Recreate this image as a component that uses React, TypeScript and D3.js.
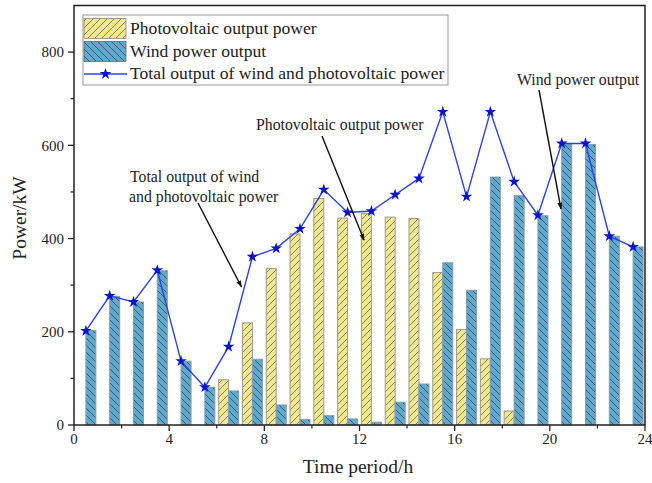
import React from "react";
import * as d3 from "d3";

const hours = d3.range(24);
const windPower = [203, 276, 264, 331, 137, 81, 73, 141, 43, 12, 20, 13, 6, 49, 88, 348, 289, 532, 492, 449, 603, 602, 405, 382];
const pvPower = [0, 0, 0, 0, 0, 0, 97, 219, 336, 410, 486, 444, 454, 446, 443, 327, 205, 142, 30, 0, 0, 0, 0, 0];
const totalPower = [202, 277, 264, 332, 137, 81, 168, 361, 379, 421, 505, 456, 459, 494, 529, 672, 490, 672, 522, 450, 604, 604, 405, 382];
const xTicks = [0, 4, 8, 12, 16, 20, 24];
const yTicks = [0, 200, 400, 600, 800];
const legendLabels = ["Photovoltaic output power", "Wind power output", "Total output of wind and photovoltaic power"];

const W = 652, H = 483;
const FONT = "'Liberation Serif', 'DejaVu Serif', serif";
const PV_FILL = "#F1E88E";
const WIND_FILL = "#5FA9CF";
const LINE = "#2B44E0";
const STAR = "#0A14C8";

export default function App() {
  const x = d3.scaleLinear().domain([0, 24]).range([74, 645]);
  const y = d3.scaleLinear().domain([0, 900]).range([425, 5.5]);
  const bw = 0.42;
  const line = d3.line<number>().x((_, i) => x(i + 0.5)).y((d) => y(d));
  const star = d3.symbol().type(d3.symbolStar).size(42)();
  const minorY = d3.range(100, 900, 200);
  const minorX = d3.range(2, 24, 4);

  return (
    <svg width={W} height={H} style={{ position: "fixed", left: 0, top: 0, background: "#fff" }} fontFamily={FONT}>
      <defs>
        <pattern id="pvHatch" patternUnits="userSpaceOnUse" width="7" height="7">
          <rect width="7" height="7" fill={PV_FILL} />
          <path d="M-1,8 L8,-1 M-1,1 L1,-1 M6,8 L8,6" stroke="#555" strokeWidth="0.7" />
        </pattern>
        <pattern id="windHatch" patternUnits="userSpaceOnUse" width="7" height="7">
          <rect width="7" height="7" fill={WIND_FILL} />
          <path d="M-1,-1 L8,8 M-1,6 L1,8 M6,-1 L8,1" stroke="#2a3a48" strokeWidth="0.7" />
        </pattern>
        <marker id="arrow" viewBox="0 0 10 10" refX="9" refY="5" markerWidth="7" markerHeight="7" orient="auto" markerUnits="userSpaceOnUse">
          <path d="M0,1.5 L10,5 L0,8.5 Z" fill="#111" />
        </marker>
      </defs>

      {/* bars */}
      {hours.map((h) => (
        <g key={h}>
          {pvPower[h] > 0 && (
            <rect x={x(h + 0.5 - bw)} y={y(pvPower[h])} width={x(h + 0.5) - x(h + 0.5 - bw)} height={y(0) - y(pvPower[h])}
              fill="url(#pvHatch)" stroke="#9a9a9a" strokeWidth="1" />
          )}
          {windPower[h] > 0 && (
            <rect x={x(h + 0.5)} y={y(windPower[h])} width={x(h + 0.5 + bw) - x(h + 0.5)} height={y(0) - y(windPower[h])}
              fill="url(#windHatch)" stroke="#8a9aa5" strokeWidth="1" />
          )}
        </g>
      ))}

      {/* total line */}
      <path d={line(totalPower) || ""} fill="none" stroke={LINE} strokeWidth={1.4} />
      {totalPower.map((v, i) => (
        <path key={i} d={star} transform={`translate(${x(i + 0.5)},${y(v)})`} fill={STAR} />
      ))}

      {/* frame */}
      <rect x={x(0)} y={y(900)} width={x(24) - x(0)} height={y(0) - y(900)} fill="none" stroke="#222" strokeWidth={1.5} />

      {/* y ticks */}
      {yTicks.map((t) => (
        <g key={t}>
          <line x1={x(0) - 6} x2={x(0)} y1={y(t)} y2={y(t)} stroke="#222" strokeWidth={1.3} />
          <text x={x(0) - 10} y={y(t)} dy="0.35em" textAnchor="end" fontSize={15} fill="#222">{t}</text>
        </g>
      ))}
      {minorY.map((t) => (
        <line key={t} x1={x(0) - 3.5} x2={x(0)} y1={y(t)} y2={y(t)} stroke="#222" strokeWidth={1.2} />
      ))}

      {/* x ticks */}
      {xTicks.map((t) => (
        <g key={t}>
          <line x1={x(t)} x2={x(t)} y1={y(0)} y2={y(0) + 6} stroke="#222" strokeWidth={1.3} />
          <text x={x(t)} y={y(0) + 19} textAnchor="middle" fontSize={15} fill="#222">{t}</text>
        </g>
      ))}
      {minorX.map((t) => (
        <line key={t} x1={x(t)} x2={x(t)} y1={y(0)} y2={y(0) + 3.5} stroke="#222" strokeWidth={1.2} />
      ))}

      {/* axis titles */}
      <text x={358} y={473} textAnchor="middle" fontSize={19.5} fill="#222">Time period/h</text>
      <text transform="translate(26,218) rotate(-90)" textAnchor="middle" fontSize={19.5} fill="#222">Power/kW</text>

      {/* legend */}
      <g>
        <rect x={83} y={15} width={365} height={70} fill="#fff" stroke="#999" strokeWidth={1} />
        <rect x={84} y={18.5} width={42} height={20} fill="url(#pvHatch)" stroke="#888" strokeWidth={0.8} />
        <rect x={84} y={41.5} width={42} height={20} fill="url(#windHatch)" stroke="#666" strokeWidth={0.8} />
        <line x1={84} x2={127} y1={74} y2={74} stroke={LINE} strokeWidth={1.4} />
        <path d={star} transform="translate(105.5,74)" fill={STAR} />
        {legendLabels.map((l, i) => (
          <text key={l} x={130} y={34 + i * 22.5} fontSize={17.6} fill="#222">{l}</text>
        ))}
      </g>

      {/* annotations */}
      <text x={130} y={182} fontSize={15.8} fill="#222">Total output of wind</text>
      <text x={129} y={202} fontSize={15.8} fill="#222">and photovoltaic power</text>
      <line x1={198} y1={203} x2={241.5} y2={287} stroke="#111" strokeWidth={1.4} markerEnd="url(#arrow)" />

      <text x={256} y={130} fontSize={15.8} fill="#222">Photovoltaic output power</text>
      <line x1={322} y1={136} x2={364} y2={240} stroke="#111" strokeWidth={1.4} markerEnd="url(#arrow)" />

      <text x={517} y={85} fontSize={15.8} fill="#222">Wind power output</text>
      <line x1={539} y1={90} x2={561} y2={209} stroke="#111" strokeWidth={1.4} markerEnd="url(#arrow)" />
    </svg>
  );
}
